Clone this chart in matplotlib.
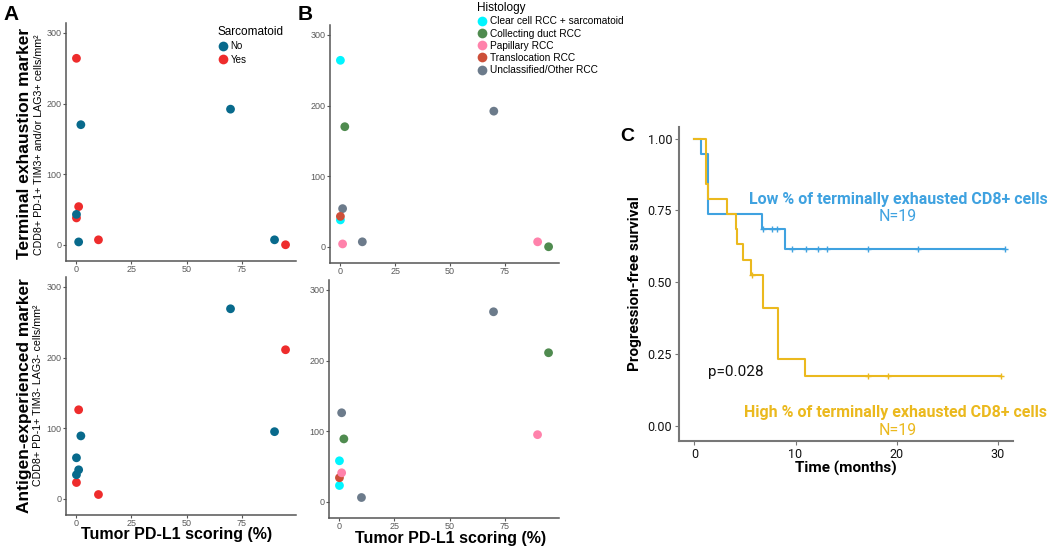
import matplotlib
matplotlib.use("Agg")

import matplotlib.pyplot as plt
from matplotlib.lines import Line2D

# scatter data (one entry per patient)
pdl1 = [0, 2, 70, 1, 0, 0, 1, 10, 90, 95]
terminal = [264, 170, 192, 54, 38, 43, 4, 7, 7, 0]
antigen = [58, 89, 269, 126, 23, 34, 41, 6, 95, 211]
sarc_terminal = ["Yes", "No", "No", "Yes", "Yes", "No", "No", "Yes", "No", "Yes"]
sarc_antigen = ["No", "No", "No", "Yes", "Yes", "No", "No", "Yes", "No", "Yes"]
histology = ["Clear cell RCC + sarcomatoid", "Collecting duct RCC", "Unclassified/Other RCC",
             "Unclassified/Other RCC", "Clear cell RCC + sarcomatoid", "Translocation RCC",
             "Papillary RCC", "Unclassified/Other RCC", "Papillary RCC", "Collecting duct RCC"]

sarc_levels = ["No", "Yes"]
hist_levels = ["Clear cell RCC + sarcomatoid", "Collecting duct RCC", "Papillary RCC",
               "Translocation RCC", "Unclassified/Other RCC"]

# Kaplan-Meier curves
low_time = [0, 0.66, 1.32, 6.7, 9.0, 30.7]
low_surv = [1.0, 0.947, 0.737, 0.684, 0.616, 0.616]
low_cens_time = [6.75, 7.7, 8.2, 9.7, 11.0, 12.2, 13.1, 17.2, 22.1, 30.7]
low_cens_surv = [0.684, 0.684, 0.684, 0.616, 0.616, 0.616, 0.616, 0.616, 0.616, 0.616]

high_time = [0, 1.1, 1.3, 3.2, 4.1, 4.2, 4.8, 5.6, 6.8, 8.25, 10.9, 30.3]
high_surv = [1.0, 0.842, 0.789, 0.737, 0.684, 0.632, 0.579, 0.526, 0.409, 0.234, 0.175, 0.175]
high_cens_time = [5.7, 17.2, 19.1, 30.3]
high_cens_surv = [0.526, 0.175, 0.175, 0.175]

sarc_colors = {"No": "#086a8c", "Yes": "#ee2c2c"}
hist_colors = {"Clear cell RCC + sarcomatoid": "#00f5ff",
               "Collecting duct RCC": "#4f8b4f",
               "Papillary RCC": "#ff82ab",
               "Translocation RCC": "#cd4f39",
               "Unclassified/Other RCC": "#6c7b8b"}
low_col = "#3fa2e0"
high_col = "#ebb91e"

W, H = 1050, 550
fig = plt.figure(figsize=(10.5, 5.5), dpi=100)


def box(left, top, right, bottom):
    return [left / W, 1 - bottom / H, (right - left) / W, (bottom - top) / H]


sans = "Liberation Sans"
axis_grey = "#555555"


def style_scatter(ax):
    ax.set_xlim(-4.75, 99.75)
    ax.set_ylim(-23, 314)
    ax.set_xticks([0, 25, 50, 75])
    ax.set_yticks([0, 100, 200, 300])
    for s in ["top", "right"]:
        ax.spines[s].set_visible(False)
    for s in ["left", "bottom"]:
        ax.spines[s].set_color(axis_grey)
        ax.spines[s].set_linewidth(1.1)
    ax.tick_params(colors=axis_grey, labelcolor="#5a5a5a", labelsize=6.5, length=2, width=0.8, pad=1.2)
    for lab in ax.get_xticklabels() + ax.get_yticklabels():
        lab.set_family(sans)


axA1 = fig.add_axes(box(66, 23, 296, 261))
axA2 = fig.add_axes(box(66, 277, 296, 515))
axB1 = fig.add_axes(box(330, 25, 559, 263))
axB2 = fig.add_axes(box(329, 280, 559, 518))

pt = 40
axA1.scatter(pdl1, terminal, s=pt, c=[sarc_colors[v] for v in sarc_terminal], linewidths=0, zorder=3)
axA2.scatter(pdl1, antigen, s=pt, c=[sarc_colors[v] for v in sarc_antigen], linewidths=0, zorder=3)
axB1.scatter(pdl1, terminal, s=pt, c=[hist_colors[v] for v in histology], linewidths=0, zorder=3)
axB2.scatter(pdl1, antigen, s=pt, c=[hist_colors[v] for v in histology], linewidths=0, zorder=3)

for ax in [axA1, axA2, axB1, axB2]:
    style_scatter(ax)

# y labels (two lines) for panel A
fig.text(25 / W, 1 - 143 / H, "Terminal exhaustion marker", rotation=90, ha="center", va="center",
         fontsize=12.5, fontweight="bold", family=sans)
fig.text(39 / W, 1 - 145 / H, "CDD8+ PD-1+ TIM3+ and/or LAG3+ cells/mm²", rotation=90, ha="center",
         va="center", fontsize=7.7, family=sans)
fig.text(25 / W, 1 - 396 / H, "Antigen-experienced marker", rotation=90, ha="center", va="center",
         fontsize=12.5, fontweight="bold", family=sans)
fig.text(38 / W, 1 - 395 / H, "CDD8+ PD-1+ TIM3- LAG3- cells/mm²", rotation=90, ha="center",
         va="center", fontsize=7.7, family=sans)

# x labels under the bottom row
fig.text(177 / W, 1 - 535 / H, "Tumor PD-L1 scoring (%)", ha="center", va="center",
         fontsize=11.5, fontweight="bold", family=sans)
fig.text(451 / W, 1 - 538 / H, "Tumor PD-L1 scoring (%)", ha="center", va="center",
         fontsize=11.5, fontweight="bold", family=sans)

# panel letters
fig.text(11 / W, 1 - 14 / H, "A", ha="center", va="center", fontsize=15, fontweight="bold", family=sans)
fig.text(305 / W, 1 - 14 / H, "B", ha="center", va="center", fontsize=15, fontweight="bold", family=sans)
fig.text(627 / W, 1 - 137 / H, "C", ha="center", va="center", fontsize=14, fontweight="bold", family=sans)

# legends
h_sarc = [Line2D([], [], ls="", marker="o", ms=7, mec="none", color=sarc_colors[k]) for k in sarc_levels]
axA1.legend(h_sarc, sarc_levels, title="Sarcomatoid", loc="upper left",
            bbox_to_anchor=(213 / W, 1 - 21 / H), bbox_transform=fig.transFigure,
            frameon=False, handletextpad=0.3, labelspacing=0.35, borderpad=0,
            handlelength=1.0, alignment="left", prop={"family": sans, "size": 7},
            title_fontproperties={"family": sans, "size": 8.5})

h_hist = [Line2D([], [], ls="", marker="o", ms=7, mec="none", color=hist_colors[k]) for k in hist_levels]
axB1.legend(h_hist, hist_levels, title="Histology", loc="upper left",
            bbox_to_anchor=(472 / W, 1 + 3 / H), bbox_transform=fig.transFigure,
            frameon=False, handletextpad=0.3, labelspacing=0.22, borderpad=0,
            handlelength=1.0, alignment="left", prop={"family": sans, "size": 7.3},
            title_fontproperties={"family": sans, "size": 8.5})

# panel C: Kaplan-Meier
axC = fig.add_axes(box(679, 127, 1013, 441))
roboto = "Roboto"
axC.step(low_time, low_surv, where="post", color=low_col, lw=1.5, zorder=3)
axC.step(high_time, high_surv, where="post", color=high_col, lw=1.5, zorder=4)
axC.plot(low_cens_time, low_cens_surv, ls="", marker="+", ms=5, mew=1, color=low_col, zorder=3)
axC.plot(high_cens_time, high_cens_surv, ls="", marker="+", ms=5, mew=1, color=high_col, zorder=4)
axC.set_xlim(-1.52, 31.5)
axC.set_ylim(-0.052, 1.04)
axC.set_xticks([0, 10, 20, 30])
axC.set_yticks([0, 0.25, 0.5, 0.75, 1.0])
axC.set_yticklabels(["0.00", "0.25", "0.50", "0.75", "1.00"])
for s in ["top", "right"]:
    axC.spines[s].set_visible(False)
for s in ["left", "bottom"]:
    axC.spines[s].set_color("#777777")
    axC.spines[s].set_linewidth(1.5)
axC.tick_params(colors="#777777", labelcolor="#111111", labelsize=9, length=3, width=0.8, pad=2)
for lab in axC.get_xticklabels() + axC.get_yticklabels():
    lab.set_family(roboto)
axC.set_xlabel("Time (months)", fontsize=11, fontweight="bold", family=roboto, labelpad=0)
axC.set_ylabel("Progression-free survival", fontsize=11, fontweight="bold", family=roboto, labelpad=4)

axC.text(0.656, 0.77, "Low % of terminally exhausted CD8+ cells", transform=axC.transAxes,
         ha="center", va="center", color=low_col, fontsize=11.5, fontweight="bold", family=roboto)
axC.text(0.656, 0.714, "N=19", transform=axC.transAxes, ha="center", va="center",
         color=low_col, fontsize=11.5, family=roboto)
axC.text(0.17, 0.221, "p=0.028", transform=axC.transAxes, ha="center", va="center",
         color="#111111", fontsize=11, family=roboto)
axC.text(0.649, 0.09, "High % of terminally exhausted CD8+ cells", transform=axC.transAxes,
         ha="center", va="center", color=high_col, fontsize=11.5, fontweight="bold", family=roboto)
axC.text(0.656, 0.033, "N=19", transform=axC.transAxes, ha="center", va="center",
         color=high_col, fontsize=11.5, family=roboto)

fig.savefig("out.png", dpi=100)
plt.close(fig)
